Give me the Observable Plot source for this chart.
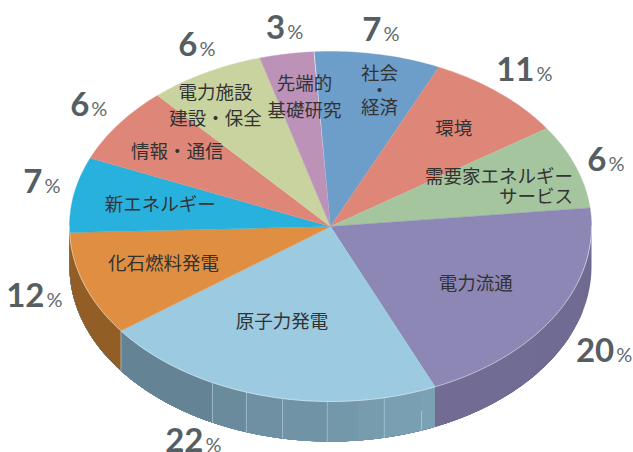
<!DOCTYPE html>
<html><head><meta charset="utf-8">
<style>html,body{margin:0;padding:0;background:#fff}svg{display:block}</style>
<script src="https://cdn.jsdelivr.net/npm/d3@7"></script>
<script src="https://cdn.jsdelivr.net/npm/@observablehq/plot@0.6"></script>
</head><body><div id="chart"></div>
<script>
// Clockwise from 社会・経済
const categories = ["社会・経済","環境","需要家エネルギーサービス","電力流通","原子力発電","化石燃料発電","新エネルギー","情報・通信","電力施設建設・保全","先端的基礎研究"];
const percentLabels = [7,11,6,20,22,12,7,6,6,3];
// Angular extent of each slice as it is drawn in the picture, in degrees
const drawnSweep = [28,31.4,28,72.5,77,34.6,25,25.5,25.8,12];
const firstAngle = -3.5;
const topColors = ["#6d9dc9","#de8678","#a4c59d","#8c87b5","#9bcae1","#e08e41","#29b1dd","#de8678","#c8d39f","#bc92b9"];

// Visible outer wall: bands of shade
const sideStops = [90,105,113.7,127.9,144.6,156.4,159.6,168.1,173.9,180.7,190.6,198.8,206.9,233.4,270];
const sideShades = ["#6f6a92","#716b93","#706b93","#716c94","#726c94","#7ba2b4","#78a0b2","#769cae","#7398aa","#7094a6","#6e90a2","#6a8b9c","#648496","#925e26"];
const sideRules = [168.1,180.7,190.6,198.8,206.9,233.4];

// Slice labels: lines, angle offset from slice middle, radius, leading, anchor
const labelLines = [["社会","・","経済"],["環境"],["需要家エネルギー","サービス"],["電力流通"],["原子力発電"],["化石燃料発電"],["新エネルギー"],["情報・通信"],["電力施設","建設・保全"],["先端的","基礎研究"]];
const labelShift = [3.2,0,6.4,0.6,4,0.6,0,0,-4,2];
const labelRadius = [0.794,0.732,0.956,0.647,0.575,0.676,0.663,0.723,0.818,0.742];
const labelLeading = [17,0,20,0,0,0,0,0,26,27];
const labelEndAligned = [false,false,true,false,false,false,false,false,false,false];
// Percent labels
const pctShift = [-0.45,1.1,0.4,3,6.6,-0.7,2.3,1.25,2.6,1.2];
const pctRadius = [1.14,1.19,1.127,1.303,1.318,1.162,1.128,1.152,1.154,1.147];

const unitPx = 175;            // pixels per model unit on y
const depth = 40 / unitPx;
const rad = d => d * Math.PI / 180;
const px = t => Math.sin(rad(t));
const py = t => Math.cos(rad(t));
const arc = (a, b) => { const s = d3.range(a, b, 1); s.push(b); return s; };

const edges = [firstAngle];
drawnSweep.forEach(s => edges.push(edges[edges.length - 1] + s));
const mids = drawnSweep.map((s, i) => edges[i] + s / 2);

const topRows = categories.flatMap((c, i) => [
  {c, x: 0, y: 0},
  ...arc(edges[i], edges[i + 1]).map(t => ({c, x: px(t), y: py(t)}))
]);
// Each band runs on to the end of the wall, so the next one covers it without a seam
const sideEnd = sideStops[sideStops.length - 1];
const sideRows = sideShades.flatMap((shade, i) => {
  const a = arc(sideStops[i], sideEnd);
  return [
    ...a.map(t => ({k: i, shade, x: px(t), y: py(t)})),
    ...a.slice().reverse().map(t => ({k: i, shade, x: px(t), y: py(t) - depth}))
  ];
});
const rimRows = arc(90, 270).map(t => ({x: px(t), y: py(t)}));
const ruleRows = sideRules.map(t => ({x: px(t), y1: py(t), y2: py(t) - depth}));
const t159 = sideStops[6];
const labelRows = labelLines.flatMap((lines, i) => {
  const t = mids[i] + labelShift[i], r = labelRadius[i];
  return lines.map((text, k) => ({
    text, end: labelEndAligned[i],
    x: r * px(t),
    y: r * py(t) - (k - (lines.length - 1) / 2) * labelLeading[i] / unitPx
  }));
});
const pctRows = percentLabels.map((v, i) => {
  const t = mids[i] + pctShift[i], r = pctRadius[i];
  return {v: String(v), x: r * px(t), y: r * py(t)};
});

const jp = "'Noto Sans CJK JP','Noto Sans',sans-serif";
const plot = Plot.plot({
  width: 633, height: 452,
  margin: 0, marginTop: 0, marginRight: 0, marginBottom: 0, marginLeft: 0,
  x: {domain: [-1, 1], range: [69, 591], axis: null},
  y: {domain: [-1, 1], range: [401, 51], axis: null},
  color: {type: "ordinal", domain: categories, range: topColors},
  style: {background: "#fff", overflow: "visible"},
  marks: [
    Plot.line(sideRows, {x: "x", y: "y", z: "k", curve: "linear",
      fill: {value: d => d.shade, scale: null}, stroke: "none"}),
    Plot.link(ruleRows, {x1: "x", x2: "x", y1: "y1", y2: "y2", stroke: "#a9c6d2", strokeWidth: 0.9, strokeOpacity: 0.85}),
    Plot.link([{x: px(t159), y1: py(t159) - depth / 2, y2: py(t159) - depth}], {x1: "x", x2: "x", y1: "y1", y2: "y2", stroke: "#a9c6d2", strokeWidth: 0.9}),
    Plot.line(topRows, {x: "x", y: "y", z: "c", curve: "linear", fill: "c", stroke: "c", strokeWidth: 0.4}),
    Plot.line(rimRows, {x: "x", y: "y", curve: "linear", stroke: "#fff", strokeWidth: 0.8, strokeOpacity: 0.6}),
    Plot.text(labelRows.filter(d => !d.end), {x: "x", y: "y", text: "text", fontFamily: jp, fontSize: 18.5, fill: "#333", textAnchor: "middle", lineAnchor: "middle"}),
    Plot.text(labelRows.filter(d => d.end), {x: "x", y: "y", text: "text", fontFamily: jp, fontSize: 18.5, fill: "#333", textAnchor: "end", lineAnchor: "middle"}),
    Plot.text(pctRows, {x: "x", y: "y", text: "v", fontFamily: "Lato", fontWeight: 700, fontSize: 33, fill: "#555f63", textAnchor: "end", lineAnchor: "middle", dx: -1}),
    Plot.text(pctRows, {x: "x", y: "y", text: () => "%", fontFamily: "Lato", fontWeight: 400, fontSize: 20, fill: "#5f6a6e", textAnchor: "start", lineAnchor: "middle", dx: 1, dy: 4.2})
  ]
});
document.getElementById("chart").appendChild(plot);
</script></body></html>
